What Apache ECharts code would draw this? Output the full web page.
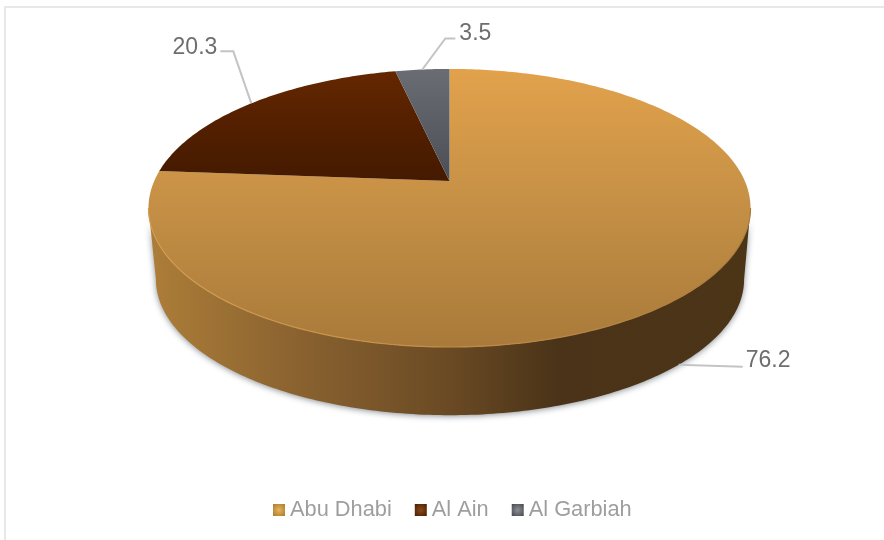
<!DOCTYPE html>
<html>
<head>
<meta charset="utf-8">
<style>html,body{margin:0;padding:0;background:#fff}#c{width:884px;height:540px}</style>
<script src="https://cdn.jsdelivr.net/npm/echarts@6/dist/echarts.min.js"></script>
</head>
<body>
<div id="c"></div>
<script>
const categories = ['Abu Dhabi', 'Al Ain', 'Al Garbiah'];
const seriesValues = [76.2, 20.3, 3.5];
const valueLabels = ['76.2', '20.3', '3.5'];

const total = seriesValues.reduce((a, b) => a + b, 0);
// Perspective projection of the pie disc
const P = 0.194, CX = 449.5, A = 295.3, B = 133.8;
const topFace = { s: 1, x: CX, y: 181 };
const baseFace = { s: 0.977, x: 450, y: 253 };
function project(face, th) {
  const u = Math.sin(th), v = Math.cos(th), w = 1 + P * v;
  return [face.x + face.s * A * u / w, face.y - face.s * B * v / w];
}
function arc(face, a0, a1) {
  const n = Math.max(2, Math.ceil(Math.abs(a1 - a0) / 0.015)), pts = [];
  for (let i = 0; i <= n; i++) pts.push(project(face, a0 + (a1 - a0) * i / n));
  return pts;
}
const SIDE0 = Math.acos(-P), SIDE1 = 2 * Math.PI - SIDE0;

const faceFills = [
  ['#e2a24c', '#c48f45', '#a97a3a'],
  ['#642800', '#531f00', '#441a00'],
  ['#6a6e74', '#5a5e64', '#4b4f55']
];
const leaderLayout = [
  { elbow: [64, 2], end: [64, 2], text: [67, -4], align: 'left' },
  { elbow: [-18, -52], end: [-31, -52], text: [-34, -56], align: 'right' },
  { elbow: [23, -31], end: [33, -31], text: [37, -36], align: 'left' }
];
function vgrad(c) {
  return { type: 'linear', x: 0, y: 0, x2: 0, y2: 1,
    colorStops: [{ offset: 0, color: c[0] }, { offset: 0.5, color: c[1] }, { offset: 1, color: c[2] }] };
}
const sideFill = { type: 'linear', x: 0, y: 0, x2: 1, y2: 0, colorStops: [
  { offset: 0, color: '#ad7e38' }, { offset: 0.25, color: '#8a6230' },
  { offset: 0.5, color: '#6a4a24' }, { offset: 0.68, color: '#4a3318' }, { offset: 1, color: '#4c3417' }] };
const rimFill = { type: 'linear', x: 0, y: 0, x2: 1, y2: 0, colorStops: [
  { offset: 0, color: '#d39d50' }, { offset: 0.5, color: '#c08d48' }, { offset: 1, color: '#a97a3a' }] };
const FONT_LABEL = '23px "Liberation Sans", Arial, sans-serif';

function sliceRenderer(idx) {
  return function (params, api) {
    const val = api.value(0);
    let before = 0;
    for (let i = 0; i < idx; i++) before += seriesValues[i];
    const a0 = before / total * 2 * Math.PI;
    const a1 = (before + val) / total * 2 * Math.PI;
    const children = [];
    const s0 = Math.max(a0, SIDE0), s1 = Math.min(a1, SIDE1);
    const mid = (a0 + a1) / 2;
    if (s1 > s0) {
      const front = arc(topFace, s0, s1);
      const back = arc(baseFace, s1, s0);
      children.push({ type: 'polygon', shape: { points: front.concat(back) },
        style: { fill: sideFill, shadowBlur: 6, shadowColor: 'rgba(40,50,60,0.55)', shadowOffsetY: 1 } });
    }
    children.push({ type: 'polygon',
      shape: { points: [[topFace.x, topFace.y]].concat(arc(topFace, a0, a1)) },
      style: { fill: vgrad(faceFills[idx]) } });
    if (s1 > s0) {
      children.push({ type: 'polyline', shape: { points: arc(topFace, s0, s1) },
        style: { stroke: rimFill, lineWidth: 1.2, fill: null } });
    }
    // leader line and value label
    const onBase = mid > SIDE0 && mid < SIDE1;
    const anchor = project(onBase ? baseFace : topFace, mid);
    const lay = leaderLayout[idx];
    const e = [anchor[0] + lay.elbow[0], anchor[1] + lay.elbow[1]];
    const t = [anchor[0] + lay.end[0], anchor[1] + lay.end[1]];
    children.push({ type: 'polyline', z2: 5, shape: { points: [anchor, e, t] },
      style: { stroke: '#c4c4c4', lineWidth: 2, fill: null } });
    children.push({ type: 'text', z2: 6, style: {
      text: valueLabels[idx], x: anchor[0] + lay.text[0], y: anchor[1] + lay.text[1],
      fill: '#6e6e6e', font: FONT_LABEL, align: lay.align, verticalAlign: 'middle' } });
    return { type: 'group', children };
  };
}

const legendIcons = [
  ['#e8b458', '#a97a30'],
  ['#8a4a1a', '#4a1d00'],
  ['#8c9096', '#44474c']
];
const chart = echarts.init(document.getElementById('c'), null, { renderer: 'canvas' });
chart.setOption({
  animation: false,
  backgroundColor: '#ffffff',
  graphic: [
    { type: 'rect', silent: true, shape: { x: 4, y: 6, width: 880, height: 2 }, style: { fill: '#e8e8e8' } },
    { type: 'rect', silent: true, shape: { x: 4, y: 6, width: 2, height: 534 }, style: { fill: '#e8e8e8' } }
  ],
  legend: {
    left: 273, top: 499, padding: 0, itemWidth: 12, itemHeight: 12, itemGap: 23, icon: 'rect',
    textStyle: { fontFamily: '"Liberation Sans", Arial, sans-serif', fontSize: 21.8, color: '#9e9e9e' },
    data: categories.map((name, i) => ({
      name,
      itemStyle: { color: { type: 'radial', x: 0.5, y: 0.5, r: 0.7,
        colorStops: [{ offset: 0, color: legendIcons[i][0] }, { offset: 1, color: legendIcons[i][1] }] } }
    }))
  },
  series: categories.map((name, i) => ({
    type: 'custom', name, coordinateSystem: 'none', silent: true, z: 2 + i,
    data: [[seriesValues[i]]],
    renderItem: sliceRenderer(i)
  }))
});
</script>
</body>
</html>
